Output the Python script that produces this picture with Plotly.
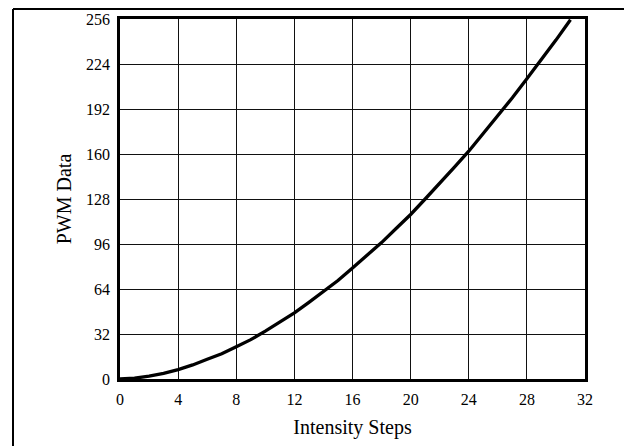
import plotly.graph_objects as go

steps = list(range(32))
pwm = [0, 0.6, 2, 4, 6.7, 10, 14, 18, 23, 28, 34, 40.5, 47, 54.5, 62, 70, 79, 88, 97, 107,
       117, 128, 139, 150.5, 162, 174.5, 187, 200, 213.5, 227, 241, 255.5]
x_ticks = list(range(0, 33, 4))
y_ticks = list(range(0, 257, 32))

fig = go.Figure()
fig.add_trace(go.Scatter(x=steps, y=pwm, mode="lines",
                         line=dict(color="black", width=3.3), showlegend=False, cliponaxis=False))

font = dict(family="Liberation Serif, Times New Roman, serif", size=16, color="black")
axis_common = dict(showgrid=True, gridcolor="#111", gridwidth=1,
                   showline=True, linecolor="black", linewidth=2.5, mirror=True,
                   zeroline=False, ticks="", ticklabelstandoff=4, automargin=False,
                   tickfont=dict(family="Liberation Serif, serif", size=16, color="black"))
fig.update_layout(
    width=624, height=446,
    margin=dict(l=120, r=39, t=19, b=67),
    paper_bgcolor="white", plot_bgcolor="white",
    font=font,
    xaxis=dict(range=[0, 32], tickvals=x_ticks, **axis_common,
               title=dict(text="Intensity Steps", standoff=14, font=dict(size=20))),
    yaxis=dict(range=[0, 256], tickvals=y_ticks, **axis_common,
               title=dict(text="PWM Data", standoff=10, font=dict(size=20))),
)
# outer frame: left edge and top edge (right and bottom fall outside the visible page)
frame = dict(color="black", width=2)
fig.add_shape(type="line", xref="paper", yref="paper", xsizemode="pixel", ysizemode="pixel",
              xanchor=0, yanchor=1, x0=-107, x1=-107, y0=-600, y1=10, line=frame)
fig.add_shape(type="line", xref="paper", yref="paper", xsizemode="pixel", ysizemode="pixel",
              xanchor=0, yanchor=1, x0=-107, x1=600, y0=10, y1=10, line=frame)
fig.write_html("out.html", config={"displayModeBar": False},
               post_script="document.body.style.margin='0';")
